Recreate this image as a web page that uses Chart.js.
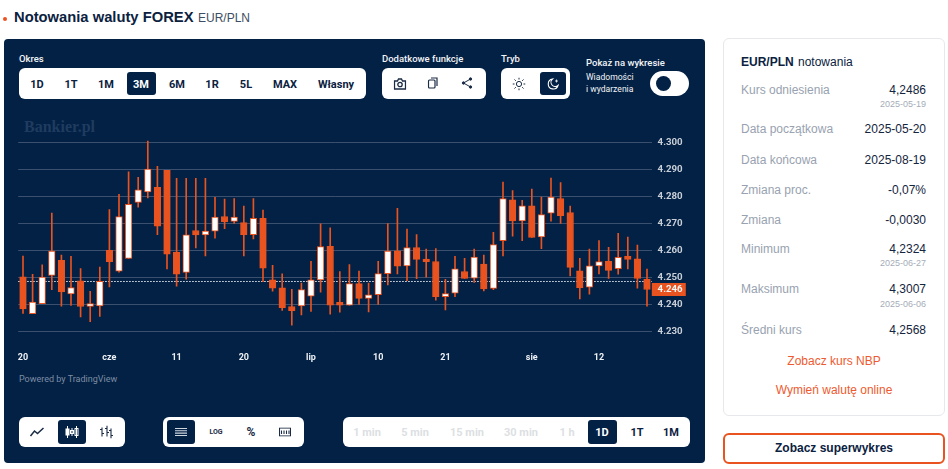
<!DOCTYPE html>
<html lang="pl">
  <head>
    <meta charset="UTF-8" />
    <title>Notowania waluty FOREX EUR/PLN</title>
    <script src="https://cdn.jsdelivr.net/npm/chart.js"></script>
    <style>
      html, body { margin: 0; padding: 0; background: #fff; overflow: hidden; }
      body { width: 948px; height: 469px; position: relative; font-family: "Liberation Sans", sans-serif; }
      .abs { position: absolute; white-space: nowrap; }
      .c { position: absolute; white-space: nowrap; transform: translate(-50%, -50%); }
      #panel { position: absolute; left: 4px; top: 39px; width: 701px; height: 424px; background: #032144; border-radius: 4px; }
      #chartBox { position: absolute; left: 0; top: 121px; width: 700px; height: 245px; }
      .lab { position: absolute; white-space: nowrap; color: #f2f4f7; font: 500 9.5px Roboto, sans-serif; transform: translateY(-50%); }
      .grp { position: absolute; background: #fff; border-radius: 6px; }
      .act { position: absolute; background: #032144; border-radius: 3px; }
      .btn { position: absolute; white-space: nowrap; transform: translate(-50%, -50%); font: 700 11px Roboto, sans-serif; color: #0b2140; }
      .btn.on { color: #fff; }
      .btn.off { color: #dcdfe3; }
      .ic { position: absolute; transform: translate(-50%, -50%); display: block; }
      #card { position: absolute; left: 723px; top: 38px; width: 220px; height: 376px; border: 1px solid #e6e8eb; border-radius: 6px; }
      .k { position: absolute; left: 741px; font-size: 12px; color: #98a2b0; transform: translateY(-50%); white-space: nowrap; }
      .v { position: absolute; right: 22px; font-size: 12px; color: #14253d; transform: translateY(-50%); white-space: nowrap; }
      .d { position: absolute; right: 22px; font-size: 9px; color: #a5adb8; transform: translateY(-50%); white-space: nowrap; }
      .lnk { position: absolute; left: 834px; font-size: 12px; color: #ee5a2f; transform: translate(-50%, -50%); white-space: nowrap; }
    </style>
  </head>
  <body>
    <div class="abs" style="left:3px;top:17px;width:4px;height:4px;border-radius:50%;background:#e9531f"></div>
    <div class="abs" style="left:14px;top:9px;font-weight:700;font-size:14.75px;color:#0b2140">Notowania waluty FOREX</div>
    <div class="abs" style="left:198px;top:11px;font-size:12px;color:#3d4d63">EUR/PLN</div>

    <div id="panel"></div>
    <div class="abs" style="left:24px;top:118px;font:700 16px 'Liberation Serif',serif;color:#1f3c60">Bankier.pl</div>
    <div id="chartBox"><canvas id="candleChart" width="700" height="245"></canvas></div>

    <div class="lab" style="left:19px;top:58px">Okres</div>
    <div class="grp" style="left:19px;top:68px;width:347px;height:31px"></div>
    <div class="act" style="left:127px;top:72px;width:29px;height:23px"></div>
    <span class="btn" style="left:37px;top:84px">1D</span>
    <span class="btn" style="left:71px;top:84px">1T</span>
    <span class="btn" style="left:106px;top:84px">1M</span>
    <span class="btn on" style="left:141px;top:84px">3M</span>
    <span class="btn" style="left:177px;top:84px">6M</span>
    <span class="btn" style="left:212px;top:84px">1R</span>
    <span class="btn" style="left:246px;top:84px">5L</span>
    <span class="btn" style="left:285px;top:84px">MAX</span>
    <span class="btn" style="left:336px;top:84px">Własny</span>

    <div class="lab" style="left:382px;top:58px">Dodatkowe funkcje</div>
    <div class="grp" style="left:382px;top:68px;width:104px;height:31px"></div>
    <svg class="ic" style="left:400px;top:84px" width="13" height="12" viewBox="0 0 13 12" fill="none" stroke="#1a2b45" stroke-width="1.3"><path d="M1 3h3l1-2h3l1 2h3v8H1z"/><circle cx="6.5" cy="6.5" r="2.2"/></svg>
    <svg class="ic" style="left:433px;top:83px" width="11" height="12" viewBox="0 0 11 12" fill="none" stroke="#1a2b45" stroke-width="1.2"><rect x="1" y="3" width="6.5" height="8" rx="1"/><path d="M3.5 1h6v8"/></svg>
    <svg class="ic" style="left:467px;top:83px" width="12" height="13" viewBox="0 0 12 13" fill="#1a2b45" stroke="#1a2b45"><path d="M9.5 2.5L2.5 6.5L9.5 10.5" fill="none" stroke-width="1"/><circle cx="9.5" cy="2.5" r="1.2"/><circle cx="2.5" cy="6.5" r="1.2"/><circle cx="9.5" cy="10.5" r="1.2"/></svg>

    <div class="lab" style="left:501px;top:58px">Tryb</div>
    <div class="grp" style="left:501px;top:68px;width:69px;height:31px"></div>
    <div class="act" style="left:540px;top:72px;width:26px;height:23px"></div>
    <svg class="ic" style="left:519px;top:84px" width="13" height="13" viewBox="0 0 13 13" fill="none" stroke="#1a2b45" stroke-width="1"><circle cx="6.5" cy="6.5" r="2.6"/><path d="M6.5 0v2M6.5 11v2M0 6.5h2M11 6.5h2M2 2l1.3 1.3M9.7 9.7L11 11M2 11l1.3-1.3M9.7 3.300L11 2"/></svg>
    <svg class="ic" style="left:553px;top:84px" width="13" height="13" viewBox="0 0 13 13" fill="none" stroke="#fff" stroke-width="1.1"><path d="M6 1.500A5 5 0 1 0 11.500 8A4.200 4.200 0 0 1 6 1.500z"/><path d="M10 2v3M8.500 3.500h3" stroke-width=".8"/></svg>

    <div class="lab" style="left:586px;top:62px">Pokaż na wykresie</div>
    <div class="lab" style="left:586px;top:77px;font-weight:400;font-size:8.6px">Wiadomości</div>
    <div class="lab" style="left:586px;top:89px;font-weight:400;font-size:8.6px">i wydarzenia</div>
    <div class="abs" style="left:650px;top:71px;width:39px;height:25px;border-radius:13px;background:#fff"></div>
    <div class="abs" style="left:656px;top:76px;width:15px;height:15px;border-radius:50%;background:#032144"></div>

    <div class="lab" style="left:19px;top:379px;color:#7d8da5;font-weight:400;font-size:9px">Powered by TradingView</div>

    <div class="grp" style="left:19px;top:417px;width:106px;height:30px"></div>
    <div class="act" style="left:58px;top:420px;width:28px;height:24px"></div>
    <svg class="ic" style="left:37px;top:432px" width="15" height="10" viewBox="0 0 15 10" fill="none" stroke="#1a2b45" stroke-width="1.5"><path d="M1 9L5 4L8 6.500L14 1"/></svg>
    <svg class="ic" style="left:72px;top:432px" width="14" height="12" viewBox="0 0 14 12" stroke="#fff" fill="#fff"><path d="M2.500 0v12M7 2v8M11.500 0v12" stroke-width="1"/><rect x="1" y="3" width="3" height="6"/><rect x="5.500" y="4.500" width="3" height="3" fill="none"/><rect x="10" y="2.500" width="3" height="7" fill="none"/></svg>
    <svg class="ic" style="left:106px;top:432px" width="14" height="13" viewBox="0 0 14 13" fill="none" stroke="#1a2b45" stroke-width="1.1"><path d="M3 2v9M1 4h2M3 8h2M8 0v11M6 3h2M8 7h2M12 3v10M10 5h2M12 10h2"/></svg>

    <div class="grp" style="left:163px;top:417px;width:141px;height:30px"></div>
    <div class="act" style="left:167px;top:420px;width:28px;height:24px"></div>
    <svg class="ic" style="left:181px;top:432px" width="12" height="9" viewBox="0 0 12 9" stroke="#d0d6de" stroke-width="1.100"><path d="M0 1h12M0 3.300h12M0 5.600h12M0 8h12"/></svg>
    <span class="btn" style="left:216px;top:432px;font-size:7px;color:#1a2b45">LOG</span>
    <span class="btn" style="left:251px;top:432px;font-size:12px;color:#1a2b45">%</span>
    <svg class="ic" style="left:285px;top:432px" width="12" height="9" viewBox="0 0 12 9" fill="none" stroke="#1a2b45" stroke-width="1.1"><rect x=".5" y=".5" width="11" height="8"/><path d="M2.500 3v3.500M5 3v3.500M7.500 3v3.500M10 3v3.500"/></svg>

    <div class="grp" style="left:343px;top:417px;width:347px;height:30px"></div>
    <div class="act" style="left:588px;top:420px;width:29px;height:24px"></div>
    <span class="btn off" style="left:367px;top:432px">1 min</span>
    <span class="btn off" style="left:415px;top:432px">5 min</span>
    <span class="btn off" style="left:467px;top:432px">15 min</span>
    <span class="btn off" style="left:521px;top:432px">30 min</span>
    <span class="btn off" style="left:567px;top:432px">1 h</span>
    <span class="btn on" style="left:602px;top:432px">1D</span>
    <span class="btn" style="left:637px;top:432px">1T</span>
    <span class="btn" style="left:671px;top:432px">1M</span>

    <div id="card"></div>
    <div class="abs" style="left:741px;top:55px;font-size:12px;color:#0b2140"><b>EUR/PLN</b> <span style="margin-left:1px">notowania</span></div>
    <div class="k" style="top:90px">Kurs odniesienia</div><div class="v" style="top:90px">4,2486</div><div class="d" style="top:104px">2025-05-19</div>
    <div class="k" style="top:129px">Data początkowa</div><div class="v" style="top:129px">2025-05-20</div>
    <div class="k" style="top:160px">Data końcowa</div><div class="v" style="top:160px">2025-08-19</div>
    <div class="k" style="top:190px">Zmiana proc.</div><div class="v" style="top:190px">-0,07%</div>
    <div class="k" style="top:220px">Zmiana</div><div class="v" style="top:220px">-0,0030</div>
    <div class="k" style="top:249px">Minimum</div><div class="v" style="top:249px">4,2324</div><div class="d" style="top:263px">2025-06-27</div>
    <div class="k" style="top:289px">Maksimum</div><div class="v" style="top:289px">4,3007</div><div class="d" style="top:304px">2025-06-06</div>
    <div class="k" style="top:330px">Średni kurs</div><div class="v" style="top:330px">4,2568</div>
    <div class="lnk" style="top:361px">Zobacz kurs NBP</div>
    <div class="lnk" style="top:390px">Wymień walutę online</div>
    <div class="abs" style="left:723px;top:433px;width:218px;height:27px;border:2px solid #e9531f;border-radius:6px"></div>
    <div class="c" style="left:834px;top:448px;font-weight:700;font-size:12px;color:#0b2140">Zobacz superwykres</div>

    <script>
      const categories = [
        "05-20", "05-21", "05-22", "05-23", "05-26", "05-27", "05-28", "05-29", "05-30",
        "06-02", "06-03", "06-04", "06-05", "06-06", "06-09", "06-10", "06-11", "06-12", "06-13",
        "06-16", "06-17", "06-18", "06-19", "06-20", "06-23", "06-24", "06-25", "06-26", "06-27", "06-30",
        "07-01", "07-02", "07-03", "07-04", "07-07", "07-08", "07-09", "07-10", "07-11", "07-14",
        "07-15", "07-16", "07-17", "07-18", "07-21", "07-22", "07-23", "07-24", "07-25", "07-28",
        "07-29", "07-30", "07-31", "08-01", "08-04", "08-05", "08-06", "08-07", "08-08", "08-11",
        "08-12", "08-13", "08-14", "08-15", "08-18", "08-19",
      ];
      const opens = [
        4.2503, 4.2366, 4.2403, 4.2508, 4.2564, 4.244, 4.2488, 4.2393, 4.2395, 4.2601, 4.2524,
        4.2571, 4.2779, 4.2818, 4.2835, 4.2898, 4.2594, 4.2519, 4.2675, 4.2659, 4.2673, 4.2727,
        4.2709, 4.2704, 4.266, 4.272, 4.2492, 4.2462, 4.2393, 4.2395, 4.2431, 4.2492, 4.2616,
        4.2408, 4.2398, 4.2478, 4.2423, 4.2437, 4.2515, 4.26, 4.2544, 4.2612, 4.2569, 4.256,
        4.2429, 4.2442, 4.2523, 4.2498, 4.255, 4.246, 4.2637, 4.2789, 4.2711, 4.2767, 4.2651,
        4.2739, 4.2794, 4.2742, 4.2525, 4.2465, 4.2544, 4.2561, 4.2533, 4.2579, 4.257, 4.2494,
      ];
      const closes = [
        4.2384, 4.2409, 4.2502, 4.2599, 4.2447, 4.2463, 4.2393, 4.2404, 4.2486, 4.2559, 4.2727,
        4.2772, 4.2826, 4.2903, 4.2691, 4.2587, 4.2513, 4.2659, 4.2659, 4.2673, 4.2725, 4.2708,
        4.2725, 4.266, 4.272, 4.2535, 4.2461, 4.2389, 4.2377, 4.2456, 4.2492, 4.2615, 4.2398,
        4.2398, 4.2478, 4.2423, 4.2436, 4.2515, 4.2599, 4.2543, 4.2612, 4.2568, 4.2559, 4.2429,
        4.2441, 4.2533, 4.2497, 4.2576, 4.2458, 4.2623, 4.2794, 4.2711, 4.2767, 4.2649, 4.2734,
        4.2799, 4.273, 4.2538, 4.2463, 4.2544, 4.256, 4.2527, 4.2575, 4.2568, 4.2497, 4.2456,
      ];
      const highs = [
        4.258, 4.2512, 4.2548, 4.274, 4.2584, 4.2579, 4.2534, 4.2449, 4.2539, 4.2753, 4.2809,
        4.2893, 4.2872, 4.3007, 4.2913, 4.2898, 4.2869, 4.2869, 4.2869, 4.2869, 4.2798, 4.2792,
        4.2794, 4.2766, 4.2794, 4.2751, 4.2546, 4.2514, 4.2457, 4.248, 4.2561, 4.27, 4.2685,
        4.2523, 4.2549, 4.2524, 4.248, 4.2561, 4.2701, 4.2757, 4.268, 4.266, 4.2606, 4.2608,
        4.2494, 4.2579, 4.2572, 4.2606, 4.2584, 4.2668, 4.2855, 4.2823, 4.2787, 4.2829, 4.2799,
        4.287, 4.2853, 4.2766, 4.2572, 4.2606, 4.2638, 4.2613, 4.2665, 4.2651, 4.2621, 4.2532,
      ];
      const lows = [
        4.2367, 4.2366, 4.2403, 4.2455, 4.2394, 4.2397, 4.2354, 4.2337, 4.2356, 4.2466, 4.252,
        4.2571, 4.2762, 4.2796, 4.266, 4.2532, 4.2468, 4.2494, 4.261, 4.2581, 4.2647, 4.2682,
        4.2701, 4.2581, 4.2644, 4.2485, 4.245, 4.2378, 4.2324, 4.2362, 4.2375, 4.2446, 4.2364,
        4.2372, 4.2398, 4.2401, 4.2373, 4.2401, 4.2473, 4.2514, 4.2489, 4.2496, 4.2502, 4.2416,
        4.238, 4.2429, 4.2497, 4.2482, 4.2451, 4.2455, 4.2581, 4.2654, 4.2637, 4.2649, 4.2608,
        4.271, 4.2701, 4.2506, 4.2421, 4.2439, 4.2514, 4.2497, 4.2513, 4.2532, 4.2461, 4.2394,
      ];
      const xTickLabels = {
        "05-20": "20", "06-02": "cze", "06-11": "11", "06-20": "20", "07-01": "lip",
        "07-10": "10", "07-21": "21", "08-01": "sie", "08-12": "12",
      };
      const yTicks = [4.23, 4.24, 4.25, 4.26, 4.27, 4.28, 4.29, 4.3];
      const refRate = 4.2486;
      const lastRate = 4.2456;

      const ORANGE = "#e9531f";
      const WHITE = "#ffffff";

      // dotted reference line under the candles and the price tag on the axis
      const ratePlugin = {
        id: "ratePlugin",
        beforeDatasetsDraw(chart) {
          const { ctx, chartArea, scales } = chart;
          const y = Math.round(scales.y.getPixelForValue(refRate)) + 0.5;
          ctx.save();
          ctx.strokeStyle = "#e8edf3";
          ctx.setLineDash([1.5, 1.5]);
          ctx.beginPath();
          ctx.moveTo(chartArea.left, y);
          ctx.lineTo(chartArea.right, y);
          ctx.stroke();
          ctx.restore();
        },
        afterDraw(chart) {
          const { ctx, chartArea, scales } = chart;
          const y = scales.y.getPixelForValue(lastRate);
          ctx.save();
          ctx.fillStyle = ORANGE;
          ctx.fillRect(chartArea.right, y - 6.5, 34, 13);
          ctx.fillStyle = "#f4f6f8";
          ctx.font = "700 9.7px Roboto";
          ctx.textBaseline = "middle";
          ctx.fillText(lastRate.toFixed(3), chartArea.right + 5.8, y + 0.5);
          ctx.restore();
        },
      };

      const candleChart = new Chart(document.getElementById("candleChart"), {
        data: {
          labels: categories,
          datasets: [
            {
              type: "bar",
              data: lows.map((low, i) => [low, highs[i]]),
              backgroundColor: ORANGE,
              barThickness: 1,
              grouped: false,
              order: 2,
            },
            {
              type: "bar",
              data: opens.map((open, i) => [open, closes[i]]),
              backgroundColor: opens.map((open, i) => (closes[i] >= open ? WHITE : ORANGE)),
              borderColor: ORANGE,
              borderWidth: 1,
              borderSkipped: false,
              barThickness: 6.6,
              grouped: false,
              order: 1,
            },
          ],
        },
        options: {
          responsive: false,
          animation: false,
          layout: { padding: { left: 18.2, top: 8.5, right: 0, bottom: 0 } },
          plugins: { legend: { display: false }, tooltip: { enabled: false } },
          scales: {
            x: {
              grid: { display: false, drawTicks: false },
              border: { display: false },
              afterFit: (scale) => { scale.height = 21; },
              ticks: {
                autoSkip: false,
                maxRotation: 0,
                padding: 7,
                color: "#eef1f5",
                font: { family: "Roboto", size: 9, weight: "700" },
                callback: (value, i) => xTickLabels[categories[i]] || "",
              },
            },
            y: {
              position: "right",
              min: 4.225,
              max: 4.305,
              border: { display: false },
              grid: { color: "#3a506e", drawTicks: false },
              afterFit: (scale) => {
                scale.width = 48.2;
                scale.paddingTop = 0;
                scale.paddingBottom = 0;
              },
              afterBuildTicks: (scale) => { scale.ticks = yTicks.map((value) => ({ value })); },
              ticks: {
                padding: 5.8,
                color: "#c9cfd8",
                font: { family: "Roboto", size: 9.7, weight: "700" },
                callback: (value) => value.toFixed(3),
              },
            },
          },
        },
        plugins: [ratePlugin],
      });
    </script>
  </body>
</html>
